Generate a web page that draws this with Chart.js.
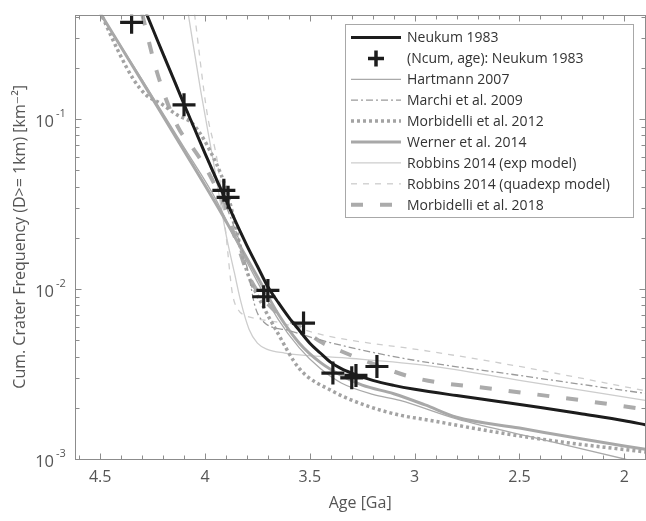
<!DOCTYPE html>
<html>
<head>
<meta charset="utf-8">
<script src="https://cdn.jsdelivr.net/npm/chart.js@4.4.1/dist/chart.umd.min.js"></script>
<style>
  html, body { margin: 0; padding: 0; background: #fff; overflow: hidden; }
  #wrap { width: 660px; height: 521px; }
</style>
</head>
<body>
<div id="wrap"><canvas id="craterChart" width="660" height="521"></canvas></div>
<script>
// Age in Ga, cumulative crater frequency N(D>=1km) in km^-2
const neukumAges = [4.30, 4.25, 4.20, 4.15, 4.10, 4.05, 4.00, 3.95, 3.90, 3.85, 3.80, 3.75, 3.70, 3.65, 3.60, 3.55, 3.50, 3.45, 3.40, 3.35, 3.30, 3.20, 3.10, 3.00, 2.80, 2.60, 2.40, 2.20, 2.00, 1.90];
const neukumN = [0.479, 0.340, 0.241, 0.172, 0.122, 0.0875, 0.0627, 0.0454, 0.0332, 0.0243, 0.0180, 0.0136, 0.0103, 0.0083, 0.0068, 0.0057, 0.0048, 0.0042, 0.0037, 0.0034, 0.0032, 0.0029, 0.00271, 0.00257, 0.00236, 0.00218, 0.00201, 0.00184, 0.00168, 0.00159];

const pointAges = [4.35, 4.10, 3.91, 3.89, 3.70, 3.72, 3.53, 3.39, 3.30, 3.28, 3.18];
const pointN = [0.37, 0.121, 0.038, 0.0346, 0.0098, 0.0090, 0.0063, 0.0032, 0.0030, 0.0031, 0.0035];

const hartmannAges = [4.49, 4.30, 4.10, 3.95, 3.85, 3.75, 3.65, 3.55, 3.45, 3.35, 3.20, 3.07, 2.80, 2.40, 2.00, 1.90];
const hartmannN = [0.40, 0.17, 0.068, 0.034, 0.019, 0.011, 0.0066, 0.0045, 0.0034, 0.0028, 0.0024, 0.00221, 0.00172, 0.00131, 0.0010, 0.00093];

const marchiAges = [4.28, 4.10, 4.00, 3.90, 3.80, 3.76, 3.72, 3.60, 3.42, 3.07, 2.50, 1.90];
const marchiN = [0.415, 0.125, 0.062, 0.031, 0.0135, 0.0078, 0.0064, 0.0057, 0.0049, 0.00394, 0.0031, 0.00243];

const morb12Ages = [4.49, 4.41, 4.34, 4.28, 4.21, 4.13, 4.06, 3.99, 3.90, 3.80, 3.72, 3.66, 3.55, 3.39, 3.23, 3.07, 2.93, 2.60, 2.30, 1.90];
const morb12N = [0.40, 0.245, 0.170, 0.138, 0.123, 0.105, 0.094, 0.070, 0.039, 0.0127, 0.0078, 0.0057, 0.0034, 0.0025, 0.00206, 0.00181, 0.00169, 0.00143, 0.00126, 0.0011];

const wernerAges = [4.50, 4.30, 4.10, 3.95, 3.85, 3.75, 3.65, 3.55, 3.45, 3.35, 3.25, 3.10, 2.95, 2.80, 2.50, 2.20, 1.90];
const wernerN = [0.42, 0.166, 0.065, 0.032, 0.0195, 0.0118, 0.0071, 0.0048, 0.0037, 0.0031, 0.00272, 0.00242, 0.00208, 0.00176, 0.00152, 0.00131, 0.00114];

const robbinsExpAges = [4.08, 4.02, 3.96, 3.90, 3.86, 3.83, 3.79, 3.75, 3.70, 3.62, 3.55, 3.30, 2.93, 2.50, 1.90];
const robbinsExpN = [0.415, 0.145, 0.056, 0.021, 0.0125, 0.0085, 0.0058, 0.0048, 0.0044, 0.0042, 0.0041, 0.0039, 0.00353, 0.0029, 0.00221];

const robbinsQuadAges = [4.05, 3.99, 3.94, 3.90, 3.87, 3.84, 3.82, 3.76, 3.66, 3.42, 2.93, 2.50, 1.90];
const robbinsQuadN = [0.415, 0.108, 0.055, 0.021, 0.0095, 0.0075, 0.0071, 0.0067, 0.0064, 0.0053, 0.0043, 0.0035, 0.00252];

const morb18Ages = [4.30, 4.23, 4.13, 4.06, 3.99, 3.915, 3.85, 3.79, 3.67, 3.55, 3.45, 3.35, 3.24, 3.00, 2.60, 2.20, 1.90];
const morb18N = [0.415, 0.19, 0.090, 0.068, 0.050, 0.032, 0.019, 0.0118, 0.0075, 0.0060, 0.0049, 0.0043, 0.0038, 0.0030, 0.00256, 0.00221, 0.00196];

const xTickValues = [2, 2.5, 3, 3.5, 4, 4.5];
const yTickValues = [1e-3, 1e-2, 1e-1];
const yTickExponents = ['-3', '-2', '-1'];

const FONT = '"Open Sans", "DejaVu Sans", sans-serif';

function pairs(ages, vals) {
  return ages.map((a, i) => ({ x: a, y: vals[i] }));
}

function curve(label, ages, vals, color, width, dash) {
  return {
    label: label,
    data: pairs(ages, vals),
    borderColor: color,
    backgroundColor: color,
    borderWidth: width,
    borderDash: dash || [],
    borderCapStyle: 'butt',
    pointRadius: 0,
    showLine: true,
    fill: false,
    cubicInterpolationMode: 'monotone',
    order: 1
  };
}

// frame with inward ticks and the 10^k labels (MATLAB style box)
const framePlugin = {
  id: 'frame',
  afterDatasetsDraw(chart) {
    const { ctx, chartArea: a, scales } = chart;
    const x = scales.x, y = scales.y;
    ctx.save();
    ctx.strokeStyle = '#8c8c8c';
    ctx.lineWidth = 1;
    const L = Math.round(a.left) + 0.5, R = Math.round(a.right) + 0.5;
    const T = Math.round(a.top) + 0.5, B = Math.round(a.bottom) + 0.5;
    ctx.strokeRect(L, T, R - L, B - T);
    ctx.beginPath();
    for (let t = 19; t <= 46; t++) {
      const px = Math.round(x.getPixelForValue(t / 10)) + 0.5;
      const len = t % 5 === 0 ? 6 : 4;
      ctx.moveTo(px, B); ctx.lineTo(px, B - len);
      ctx.moveTo(px, T); ctx.lineTo(px, T + len);
    }
    for (let k = -3; k <= -1; k++) {
      for (let m = 1; m <= 9; m++) {
        const v = m * Math.pow(10, k);
        if (v > y.max) break;
        const py = Math.round(y.getPixelForValue(v)) + 0.5;
        const len = m === 1 ? 6 : 4;
        ctx.moveTo(L, py); ctx.lineTo(L + len, py);
        ctx.moveTo(R, py); ctx.lineTo(R - len, py);
      }
    }
    ctx.stroke();

    ctx.fillStyle = '#555';
    ctx.textBaseline = 'middle';
    yTickValues.forEach((v, i) => {
      const py = y.getPixelForValue(v);
      ctx.font = '16.5px ' + FONT;
      ctx.textAlign = 'right';
      ctx.fillText('10', 54, py + 3);
      ctx.font = '11px ' + FONT;
      ctx.textAlign = 'left';
      ctx.fillText(yTickExponents[i], 56, py - 5);
    });
    ctx.restore();
  }
};

// boxed legend in the upper right corner
const legendPlugin = {
  id: 'boxLegend',
  afterDraw(chart) {
    const ctx = chart.ctx;
    const x0 = 345, y0 = 24, w = 288, h = 193;
    ctx.save();
    ctx.fillStyle = '#fff';
    ctx.fillRect(x0, y0, w, h);
    ctx.strokeStyle = '#a8a8a8';
    ctx.lineWidth = 1;
    ctx.strokeRect(x0 + 0.5, y0 + 0.5, w, h);
    ctx.font = '14px ' + FONT;
    ctx.textBaseline = 'middle';
    chart.data.datasets.forEach((ds, i) => {
      const cy = y0 + 13.5 + i * 20.9;
      ctx.strokeStyle = ds.borderColor;
      ctx.lineWidth = ds.borderWidth;
      ctx.lineCap = 'butt';
      ctx.beginPath();
      if (ds.showLine === false) {
        ctx.setLineDash([]);
        ctx.lineWidth = 3.5;
        ctx.moveTo(368, cy); ctx.lineTo(384, cy);
        ctx.moveTo(376, cy - 8); ctx.lineTo(376, cy + 8);
      } else {
        ctx.setLineDash(ds.borderDash || []);
        ctx.moveTo(351, cy); ctx.lineTo(401, cy);
      }
      ctx.stroke();
      ctx.setLineDash([]);
      ctx.fillStyle = '#333';
      ctx.fillText(ds.label, 407, cy + 1);
    });
    ctx.restore();
  }
};

const ctx = document.getElementById('craterChart');

new Chart(ctx, {
  type: 'scatter',
  data: {
    datasets: [
      curve('Neukum 1983', neukumAges, neukumN, '#1c1c1c', 3),
      {
        label: '(Ncum, age): Neukum 1983',
        data: pairs(pointAges, pointN),
        showLine: false,
        pointStyle: 'cross',
        pointRadius: 11.5,
        pointBorderWidth: 3.2,
        borderColor: '#1c1c1c',
        backgroundColor: '#1c1c1c',
        borderWidth: 3.2,
        order: -1
      },
      curve('Hartmann 2007', hartmannAges, hartmannN, '#a9a9a9', 1.3),
      curve('Marchi et al. 2009', marchiAges, marchiN, '#9a9a9a', 1.3, [7, 3, 2, 3]),
      curve('Morbidelli et al. 2012', morb12Ages, morb12N, '#a3a3a3', 3.5, [3, 3]),
      curve('Werner et al. 2014', wernerAges, wernerN, '#a8a8a8', 3),
      curve('Robbins 2014 (exp model)', robbinsExpAges, robbinsExpN, '#cdcdcd', 1.3),
      curve('Robbins 2014 (quadexp model)', robbinsQuadAges, robbinsQuadN, '#cdcdcd', 1.3, [6, 6]),
      curve('Morbidelli et al. 2018', morb18Ages, morb18N, '#ababab', 4, [12, 17])
    ]
  },
  options: {
    responsive: false,
    animation: false,
    layout: { padding: { top: 11, right: 13, left: 0, bottom: 0 } },
    plugins: {
      legend: { display: false },
      tooltip: { enabled: false }
    },
    scales: {
      x: {
        type: 'linear',
        reverse: true,
        min: 1.9,
        max: 4.62,
        afterBuildTicks: function(scale) {
          scale.ticks = xTickValues.map(v => ({ value: v }));
        },
        afterFit: function(scale) { scale.height = 62; },
        grid: { display: false, drawTicks: false },
        border: { display: false },
        ticks: {
          color: '#555',
          font: { family: FONT, size: 16 },
          padding: 9,
          maxRotation: 0,
          autoSkip: false,
          callback: function(value) { return String(value); }
        },
        title: {
          display: true,
          text: 'Age [Ga]',
          color: '#555',
          font: { family: FONT, size: 16 },
          padding: { top: 0, bottom: 8 }
        }
      },
      y: {
        type: 'logarithmic',
        min: 1e-3,
        max: 0.41,
        afterFit: function(scale) { scale.width = 75; },
        grid: { display: false, drawTicks: false },
        border: { display: false },
        ticks: { display: false },
        title: {
          display: true,
          text: 'Cum. Crater Frequency (D>= 1km) [km\u207B\u00B2]',
          color: '#555',
          font: { family: FONT, size: 16 },
          padding: { top: 11, bottom: 0 }
        }
      }
    }
  },
  plugins: [framePlugin, legendPlugin]
});
</script>
</body>
</html>
